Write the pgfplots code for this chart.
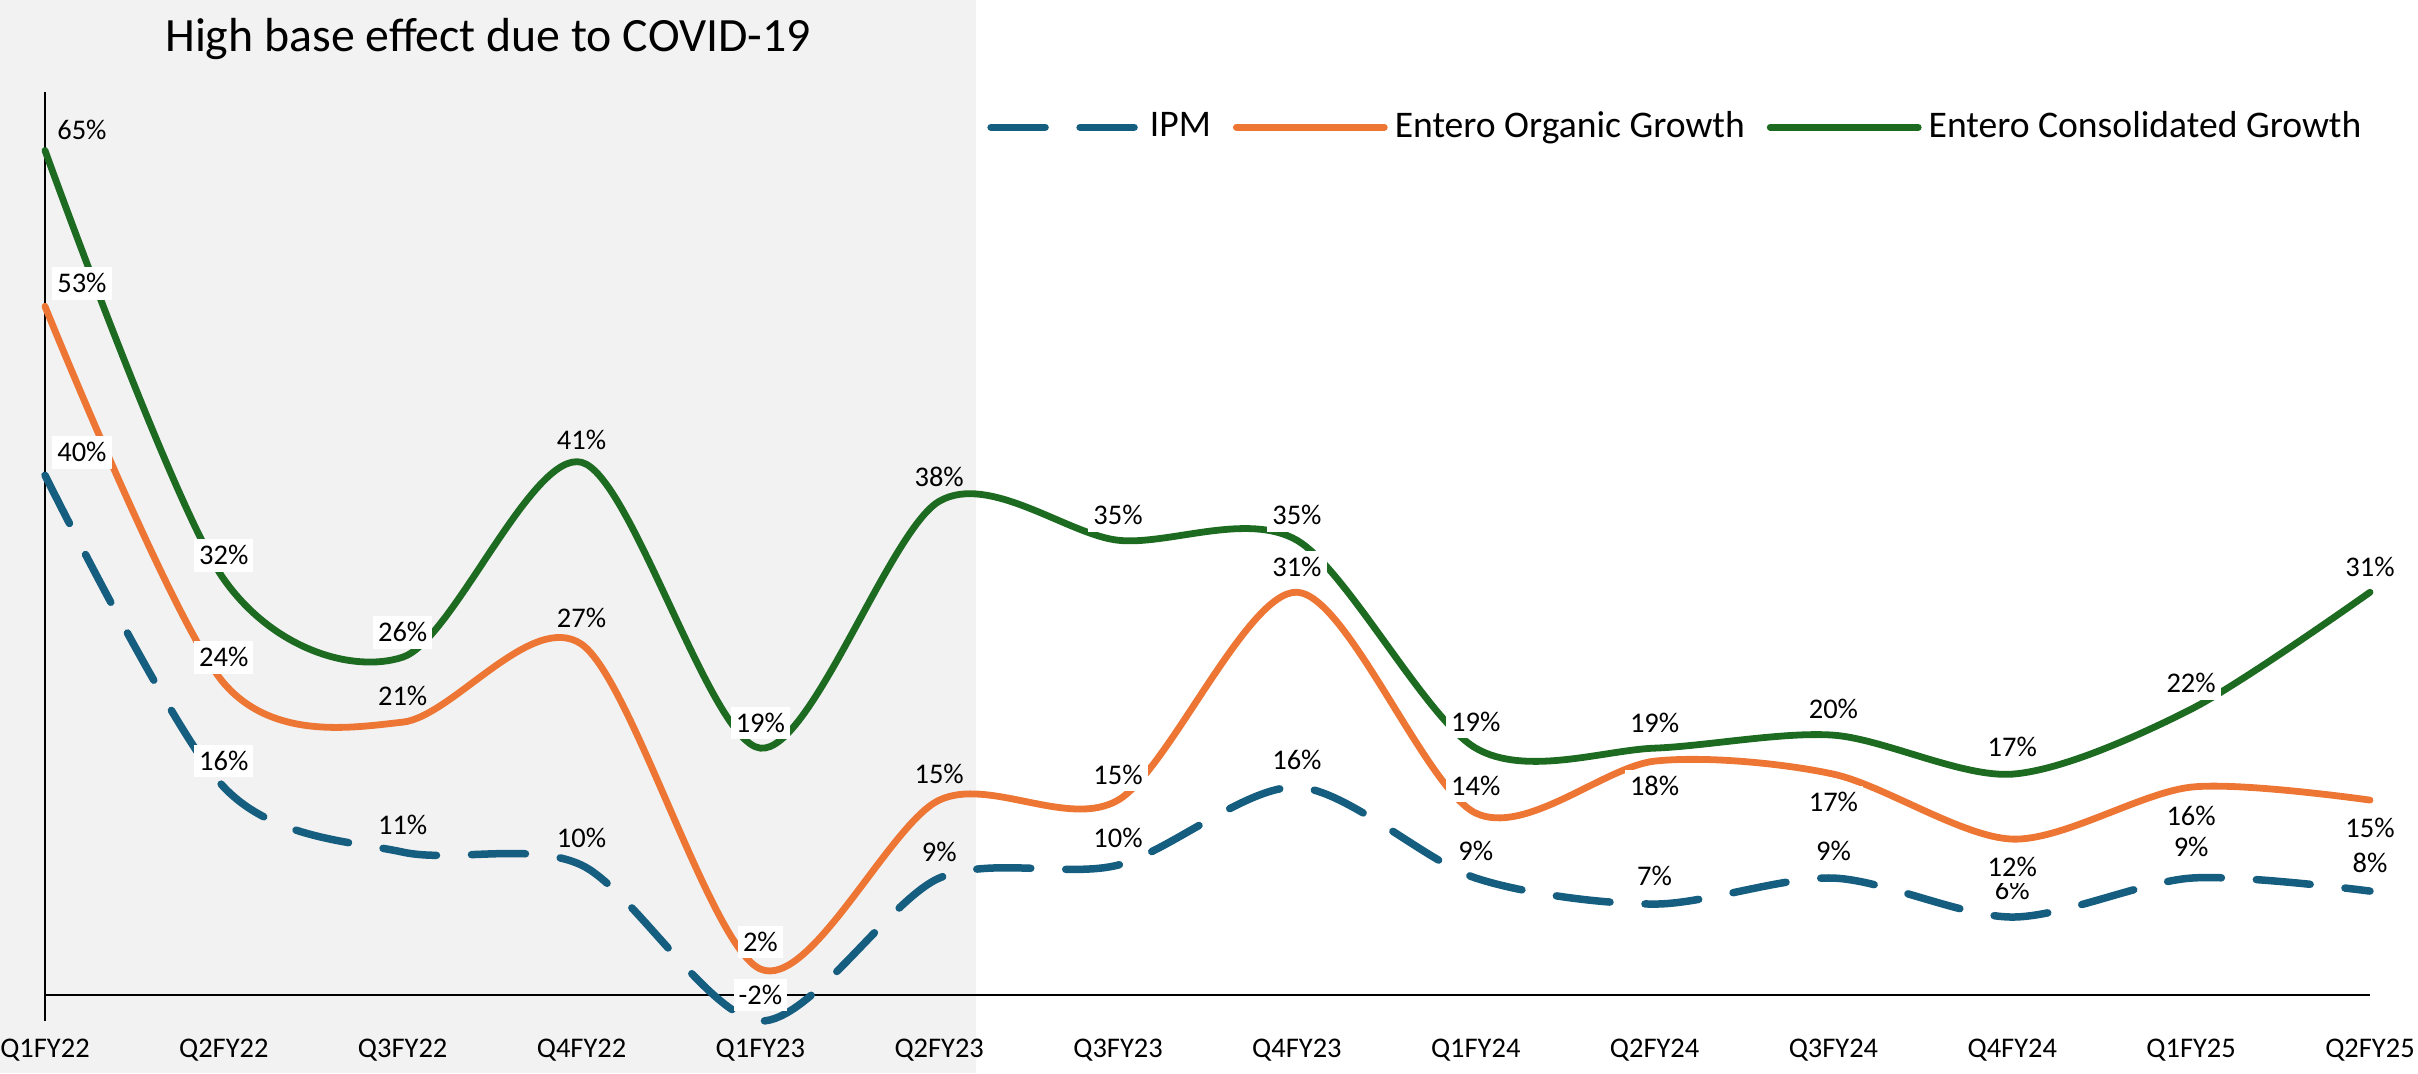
\documentclass[border=0pt]{standalone}
\usepackage{fontspec}
\setmainfont{Carlito}
\usepackage{pgfplots}
\pgfplotsset{compat=1.18}
\usepackage{pgfplotstable}

\definecolor{ipmblue}{RGB}{22,94,128}
\definecolor{orgorange}{RGB}{237,118,52}
\definecolor{consgreen}{RGB}{29,106,33}
\definecolor{bggrey}{RGB}{242,242,242}

% x = quarter index (also row number), y = growth (%),
% dx/dy = label offset (1/100 cm), f = white box behind label (1) or not (0)
\pgfplotstableread{
x y dx dy f
0 40 37 23 1
1 16 0 26 1
2 11 0 27 0
3 10 0 27 0
4 -2 0 26 1
5 9 0 26 0
6 10 0 27 1
7 16 0 27 1
8 9 0 27 1
9 7 0 28 1
10 9 0 27 1
11 6 0 27 1
12 9 0 31 1
13 8 0 28 1
}\ipm

\pgfplotstableread{
x y dx dy f
0 53 37 23 1
1 24 0 26 1
2 21 0 26 0
3 27 0 26 0
4 2 0 27 1
5 15 0 26 0
6 15 0 25 1
7 31 0 25 1
8 14 0 27 1
9 18 0 -25 1
10 17 0 -28 1
11 12 0 -28 1
12 16 0 -29 1
13 15 0 -28 1
}\organic

\pgfplotstableread{
x y dx dy f
0 65 37 21 0
1 32 0 24 1
2 26 0 25 1
3 41 0 22 0
4 19 0 25 1
5 38 0 24 0
6 35 0 25 1
7 35 0 25 1
8 19 0 26 1
9 19 0 25 1
10 20 0 26 1
11 17 0 27 1
12 22 0 26 1
13 31 0 25 1
}\consolidated

% look up the label text, offset and box of the current point in its table
\tikzset{lblpos/.code={%
  \pgfplotstablegetelem{\pgfplotspointmeta}{dx}\of{#1}\let\ldx\pgfplotsretval
  \pgfplotstablegetelem{\pgfplotspointmeta}{dy}\of{#1}\let\ldy\pgfplotsretval
  \pgfplotstablegetelem{\pgfplotspointmeta}{f}\of{#1}\let\lf\pgfplotsretval
  \pgfplotstablegetelem{\pgfplotspointmeta}{y}\of{#1}\let\lv\pgfplotsretval
  \pgfkeysalso{xshift=\ldx*0.01cm, yshift=\ldy*0.01cm, fill opacity=\lf}}}

\pgfplotsset{
  lbl/.style={
    draw=none, forget plot,
    point meta=explicit symbolic,
    nodes near coords={\lv\%},
    every node near coord/.append style={
      anchor=center, text=black, font=\fontsize{8.1}{10}\selectfont,
      fill=white, text opacity=1,
      inner xsep=0.05cm, inner ysep=0.065cm, lblpos=#1},
  },
}

\begin{document}
\begin{tikzpicture}
\fill[bggrey] (0,0) rectangle (9.76,10.73);
\node[anchor=base, font=\fontsize{13.6}{16}\selectfont] at (4.88,10.21) {High base effect due to COVID-19};
\begin{axis}[
  at={(0.45cm,0.52cm)}, anchor=south west,
  scale only axis, width=23.25cm, height=9.29cm,
  xmin=0, xmax=13, ymin=-2, ymax=69.5,
  axis line style={draw=none},
  xtick={0,...,13},
  xticklabels={Q1FY22,Q2FY22,Q3FY22,Q4FY22,Q1FY23,Q2FY23,Q3FY23,Q4FY23,Q1FY24,Q2FY24,Q3FY24,Q4FY24,Q1FY25,Q2FY25},
  ytick=\empty, major tick length=0pt,
  xticklabel style={font=\fontsize{8.1}{10}\selectfont, anchor=north, inner sep=0pt, yshift=-0.175cm},
  clip=false,
  legend columns=-1,
  legend style={draw=none, fill=none, at={(0.405,0.962)}, anchor=west,
    inner sep=0pt, font=\fontsize{10.7}{12}\selectfont,
    /tikz/every even column/.append style={column sep=0.15cm}},
  legend image code/.code={\draw[#1] (0cm,0cm) -- (1.48cm,0cm);},
]
\draw[black, line width=0.015cm] (axis cs:0,-2) -- (axis cs:0,69.5);
\draw[black, line width=0.022cm] (axis cs:0,0) -- (axis cs:13,0);

\addplot[ipmblue, line width=0.075cm, smooth, tension=0.5, line cap=round,
  dash pattern=on 0.54cm off 0.35cm] table[x=x, y=y] {\ipm};
\addlegendentry{IPM}
\addplot[orgorange, line width=0.068cm, smooth, tension=0.5, line cap=round] table[x=x, y=y] {\organic};
\addlegendentry{Entero Organic Growth}
\addplot[consgreen, line width=0.068cm, smooth, tension=0.5, line cap=round] table[x=x, y=y] {\consolidated};
\addlegendentry{Entero Consolidated Growth}

\addplot[lbl=\ipm] table[x=x, y=y, meta=x] {\ipm};
\addplot[lbl=\organic] table[x=x, y=y, meta=x] {\organic};
\addplot[lbl=\consolidated] table[x=x, y=y, meta=x] {\consolidated};
\end{axis}
\pgfresetboundingbox
\path[use as bounding box] (0,0) rectangle (24.18,10.73);
\end{tikzpicture}
\end{document}
